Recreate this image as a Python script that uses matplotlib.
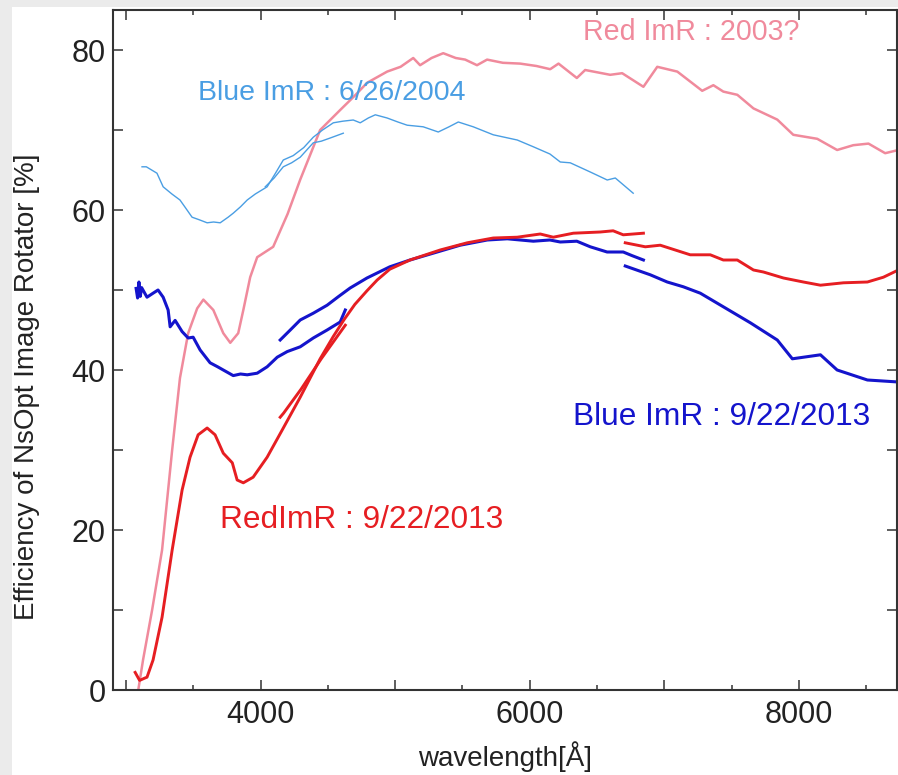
import matplotlib
matplotlib.use('Agg')
import matplotlib.pyplot as plt
from matplotlib import patches

plt.rcParams['font.family'] = ['Liberation Sans', 'DejaVu Sans']

# Red ImR 2003? (pink)
pink_x = [3090, 3126, 3193, 3267, 3342, 3400, 3461, 3528, 3574, 3648, 3722, 3774, 3833, 3871,
          3922, 3974, 4093, 4200, 4294, 4442, 4591, 4700, 4791, 4940, 5040, 5134, 5185, 5270,
          5357, 5450, 5520, 5608, 5683, 5800, 5929, 6050, 6152, 6214, 6350, 6412, 6598, 6687,
          6845, 6948, 7097, 7282, 7365, 7439, 7543, 7663, 7840, 7959, 8137, 8285, 8405, 8518,
          8642, 8740]
pink_y = [0, 3.8, 10, 17.5, 30, 39, 44.6, 47.7, 48.8, 47.5, 44.6, 43.4, 44.6, 47.5,
          51.6, 54.1, 55.4, 59.5, 63.8, 70, 72.5, 74.3, 75.9, 77.3, 77.9, 79, 78.1, 79.0,
          79.6, 79.0, 78.8, 78.1, 78.8, 78.4, 78.3, 78.0, 77.6, 78.3, 76.5, 77.5, 76.9, 77.1,
          75.4, 77.9, 77.3, 74.9, 75.6, 74.8, 74.4, 72.7, 71.3, 69.4, 68.9, 67.5, 68.1, 68.3,
          67.1, 67.5]

# Blue ImR 6/26/2004 (light blue), main trace + short repeat
lb_x = [3118, 3150, 3229, 3275, 3340, 3400, 3440, 3490, 3540, 3602, 3650, 3699, 3758, 3796,
        3850, 3900, 3960, 4048, 4110, 4168, 4242, 4320, 4391, 4460, 4540, 4610, 4688, 4740,
        4800, 4852, 4940, 5020, 5089, 5208, 5320, 5400, 5469, 5580, 5729, 5907, 6027, 6150,
        6227, 6301, 6450, 6576, 6636, 6769]
lb_y = [65.4, 65.4, 64.6, 62.9, 62.0, 61.25, 60.3, 59.1, 58.8, 58.4, 58.5, 58.4, 59.1, 59.6,
        60.4, 61.25, 62.0, 62.9, 64.6, 66.25, 66.8, 67.8, 69.1, 70.0, 70.9, 71.1, 71.25, 70.9,
        71.5, 71.9, 71.5, 71.0, 70.6, 70.4, 69.75, 70.4, 71.0, 70.4, 69.4, 68.75, 67.9, 67.0,
        66.0, 65.9, 64.75, 63.75, 64.0, 62.1]
lb2_x = [4034, 4100, 4168, 4230, 4294, 4391, 4450, 4517, 4614]
lb2_y = [62.9, 64.0, 65.4, 65.9, 66.6, 68.4, 68.6, 69.0, 69.6]

# Blue ImR 9/22/2013
b1_x = [3074, 3085, 3095, 3105, 3115, 3155, 3200, 3237, 3275, 3312, 3327, 3364, 3416, 3461,
        3498, 3550, 3624, 3680, 3722, 3796, 3850, 3900, 3974, 4048, 4123, 4197, 4294, 4391,
        4494, 4591, 4629]
b1_y = [50.2, 49.0, 51.0, 49.2, 50.3, 49.1, 49.6, 50.0, 49.1, 47.5, 45.4, 46.2, 44.8, 44.0,
        44.1, 42.5, 40.9, 40.4, 40.0, 39.3, 39.5, 39.4, 39.6, 40.4, 41.6, 42.3, 42.9, 44.0,
        45.0, 46.0, 47.5]
b2_x = [4145, 4220, 4294, 4391, 4494, 4580, 4665, 4790, 4960, 5110, 5282, 5483, 5684, 5833,
        6027, 6150, 6227, 6350, 6450, 6575, 6695, 6760, 6845]
b2_y = [43.75, 45.0, 46.25, 47.1, 48.1, 49.2, 50.25, 51.5, 52.9, 53.75, 54.6, 55.6, 56.25, 56.4,
        56.1, 56.25, 56.0, 56.1, 55.4, 54.75, 54.75, 54.3, 53.75]
b3_x = [6710, 6896, 7022, 7142, 7268, 7439, 7640, 7840, 7952, 8161, 8285, 8510, 8740]
b3_y = [53.0, 51.9, 51.0, 50.4, 49.6, 47.9, 45.9, 43.75, 41.4, 41.9, 40.0, 38.75, 38.5]

# Red ImR 9/22/2013
r1_x = [3067, 3100, 3140, 3155, 3200, 3267, 3342, 3416, 3475, 3535, 3602, 3661, 3722, 3789,
        3825, 3871, 3944, 4048, 4160, 4294, 4442, 4540, 4620, 4700, 4790, 4866, 4960, 5110,
        5334, 5535, 5729, 5907, 6078, 6175, 6324, 6524, 6620, 6695, 6845]
r1_y = [2.2, 1.2, 1.5, 1.6, 3.75, 9.1, 17.5, 25, 29.1, 31.9, 32.75, 31.9, 29.6, 28.4,
        26.25, 25.9, 26.6, 29.1, 32.5, 36.6, 41.4, 44.2, 46.3, 48.2, 49.9, 51.25, 52.6, 53.75,
        55.0, 55.9, 56.5, 56.6, 57.0, 56.6, 57.1, 57.25, 57.4, 56.9, 57.1]
r2_x = [4145, 4170, 4300, 4450, 4629]
r2_y = [34.1, 34.6, 37.6, 41.4, 45.6]
r3_x = [6710, 6859, 6970, 7193, 7342, 7439, 7543, 7663, 7737, 7886, 8034, 8161, 8332, 8510,
        8629, 8740]
r3_y = [55.9, 55.4, 55.6, 54.4, 54.4, 53.75, 53.75, 52.5, 52.25, 51.5, 51.0, 50.6, 50.9, 51.0,
        51.6, 52.5]

x_ticks = [3000, 4000, 5000, 6000, 7000, 8000]
x_ticklabels = ['', '4000', '', '6000', '', '8000']
x_minor = [3500, 4500, 5500, 6500, 7500, 8500]
y_ticks = [0, 10, 20, 30, 40, 50, 60, 70, 80]
y_ticklabels = ['0', '', '20', '', '40', '', '60', '', '80']

pink = '#f08a9c'
lblue = '#4a9ee3'
blue = '#1414cc'
red = '#e61e22'

fig = plt.figure(figsize=(8.98, 7.75), dpi=100, facecolor='#ebebeb')
fig.patches.append(patches.Rectangle((12 / 898, 0), 1, 1 - 7 / 775, transform=fig.transFigure,
                                     facecolor='white', edgecolor='none', zorder=-10))
ax = fig.add_axes([112.7 / 898, 85 / 775, (897 - 112.7) / 898, (690 - 10) / 775])

ax.plot(pink_x, pink_y, color=pink, lw=1.8)
ax.plot(lb_x, lb_y, color=lblue, lw=1.0)
ax.plot(lb2_x, lb2_y, color=lblue, lw=1.0)
for xs, ys in [(b1_x, b1_y), (b2_x, b2_y), (b3_x, b3_y)]:
    ax.plot(xs, ys, color=blue, lw=2.2)
for xs, ys in [(r1_x, r1_y), (r2_x, r2_y), (r3_x, r3_y)]:
    ax.plot(xs, ys, color=red, lw=2.1)

ax.text(6397, 82.2, 'Red ImR : 2003?', color=pink, fontsize=20.6, va='center')
ax.text(3536, 74.6, 'Blue ImR : 6/26/2004', color=lblue, fontsize=20.5, va='center')
ax.text(6322, 34.1, 'Blue ImR : 9/22/2013', color=blue, fontsize=22.8, va='center')
ax.text(3699, 21.2, 'RedImR : 9/22/2013', color=red, fontsize=22.8, va='center')

ax.set_xlim(2900, 8730)
ax.set_ylim(0, 85)
ax.set_xticks(x_ticks)
ax.set_xticklabels(x_ticklabels)
ax.set_xticks(x_minor, minor=True)
ax.set_yticks(y_ticks)
ax.set_yticklabels(y_ticklabels)
ax.tick_params(which='both', direction='in', top=True, right=True, width=1.1, color='#333333',
               labelsize=22, labelcolor='#222222')
ax.tick_params(which='major', length=7)
ax.tick_params(which='minor', length=3.5)
ax.tick_params(axis='x', pad=7)
ax.tick_params(axis='y', pad=5)
for s in ax.spines.values():
    s.set_linewidth(1.5)
    s.set_color('#333333')

ax.set_xlabel('wavelength[Å]', fontsize=20, color='#222222', labelpad=8)
ax.set_ylabel('Efficiency of NsOpt Image Rotator [%]', fontsize=20, color='#222222')
ax.yaxis.set_label_coords(-0.0927, 0.446)

fig.savefig('out.png', dpi=100, facecolor=fig.get_facecolor())
